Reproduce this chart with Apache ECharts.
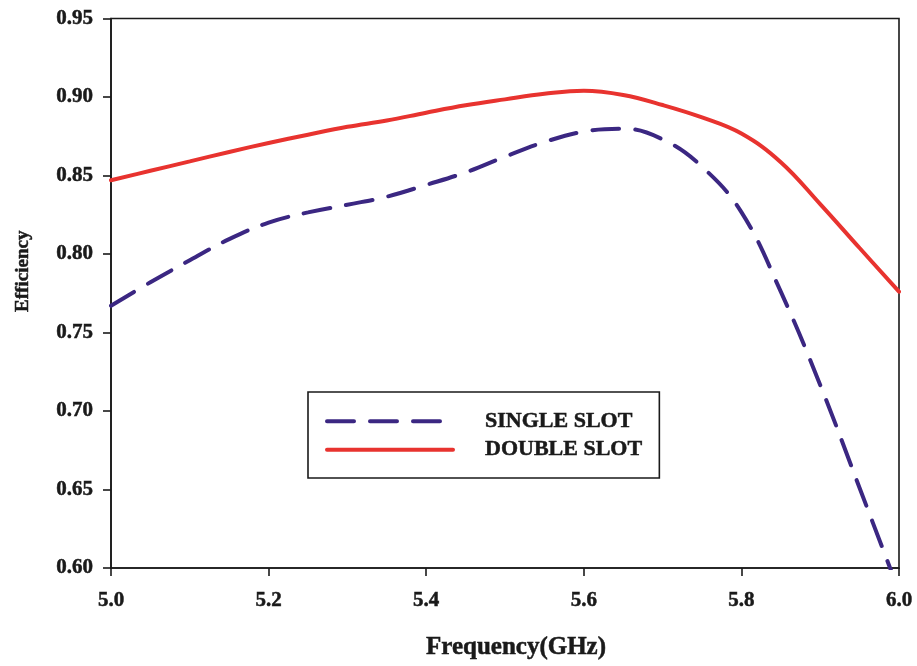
<!DOCTYPE html>
<html>
<head>
<meta charset="utf-8">
<script src="https://cdn.jsdelivr.net/npm/echarts@6/dist/echarts.min.js"></script>
<style>
  html, body { margin: 0; padding: 0; background: #ffffff; }
  #chart { width: 917px; height: 666px; }
</style>
</head>
<body>
<div id="chart"></div>
<script>
// Frequency sweep (GHz)
const frequency = [5.00, 5.05, 5.10, 5.15, 5.20, 5.25, 5.30, 5.35, 5.40, 5.45, 5.50,
                   5.55, 5.60, 5.65, 5.70, 5.75, 5.80, 5.85, 5.90, 5.95, 6.00];

// Radiation efficiency, single-slot design
const singleSlot = [0.767, 0.782, 0.796, 0.8095, 0.8200, 0.8265, 0.8314, 0.8365, 0.844, 0.852, 0.862,
                    0.8713, 0.878, 0.8798, 0.873, 0.8556, 0.8267, 0.776, 0.7166, 0.651, 0.585];

// Radiation efficiency, double-slot design
const doubleSlot = [0.847, 0.853, 0.859, 0.865, 0.8707, 0.876, 0.881, 0.885, 0.890, 0.8947, 0.8985,
                    0.9020, 0.904, 0.9013, 0.8949, 0.887, 0.8767, 0.8585, 0.8318, 0.8038, 0.776];

// Axis tick values
const xTicks = [5.0, 5.2, 5.4, 5.6, 5.8, 6.0];
const yTicks = [0.60, 0.65, 0.70, 0.75, 0.80, 0.85, 0.90, 0.95];

const seriesNames = ['SINGLE SLOT', 'DOUBLE SLOT'];

const FONT = '"Liberation Serif", "Times New Roman", serif';
const INK = '#1a1a1a';

const pairs = (xs, ys) => xs.map((x, i) => [x, ys[i]]);

// heavy bold serif used for all chart text
const heavy = (size) => ({
  fontFamily: FONT, fontWeight: 'bold', fontSize: size, color: INK,
  textBorderColor: INK, textBorderWidth: 0.5
});

const chart = echarts.init(document.getElementById('chart'), null, { renderer: 'canvas' });

chart.setOption({
  backgroundColor: '#ffffff',
  animation: false,
  grid: {
    left: 111, top: 18.5, right: 18, bottom: 98,
    show: true, borderColor: INK, borderWidth: 1.6, backgroundColor: 'transparent'
  },
  legend: {
    orient: 'vertical',
    left: 308, top: 392,
    data: seriesNames,
    itemWidth: 126, itemHeight: 20, itemGap: 6,
    padding: [18, 17, 17, 17],
    borderColor: INK, borderWidth: 1.6,
    backgroundColor: '#ffffff',
    selectedMode: false,
    itemStyle: { opacity: 0 },
    lineStyle: { width: 4, cap: 'round' },
    textStyle: Object.assign(heavy(22), { padding: [0, 0, 0, 27], lineHeight: 18 })
  },
  xAxis: {
    type: 'value',
    min: xTicks[0], max: xTicks[xTicks.length - 1],
    interval: +(xTicks[1] - xTicks[0]).toFixed(2),
    name: 'Frequency(GHz)',
    nameLocation: 'middle',
    nameGap: 67,
    nameTextStyle: Object.assign(heavy(25), { padding: [0, 0, 0, 22] }),
    axisLine: { show: true, lineStyle: { color: INK, width: 1.6 } },
    axisTick: { show: true, inside: false, length: 8, lineStyle: { color: INK, width: 1.6 } },
    axisLabel: Object.assign(heavy(21), { margin: 22, formatter: v => v.toFixed(1) }),
    splitLine: { show: false }
  },
  yAxis: {
    type: 'value',
    min: yTicks[0], max: yTicks[yTicks.length - 1],
    interval: +(yTicks[1] - yTicks[0]).toFixed(2),
    name: 'Efficiency',
    nameLocation: 'middle',
    nameGap: 78,
    nameTextStyle: Object.assign(heavy(19), { padding: [0, 0, 0, 44] }),
    axisLine: { show: true, lineStyle: { color: INK, width: 1.6 } },
    axisTick: { show: true, inside: false, length: 8, lineStyle: { color: INK, width: 1.6 } },
    axisLabel: Object.assign(heavy(21), { margin: 18, formatter: v => v.toFixed(2) }),
    splitLine: { show: false }
  },
  series: [
    {
      name: seriesNames[0],
      type: 'line',
      data: pairs(frequency, singleSlot),
      smooth: 0.4,
      showSymbol: false,
      symbol: 'none',
      clip: true,
      color: '#3b2782',
      lineStyle: { color: '#3b2782', width: 4, type: [27, 16], cap: 'round' },
      z: 3
    },
    {
      name: seriesNames[1],
      type: 'line',
      data: pairs(frequency, doubleSlot),
      smooth: 0.4,
      showSymbol: false,
      symbol: 'none',
      clip: true,
      color: '#e8332f',
      lineStyle: { color: '#e8332f', width: 4, cap: 'round' },
      z: 2
    }
  ]
});
</script>
</body>
</html>
